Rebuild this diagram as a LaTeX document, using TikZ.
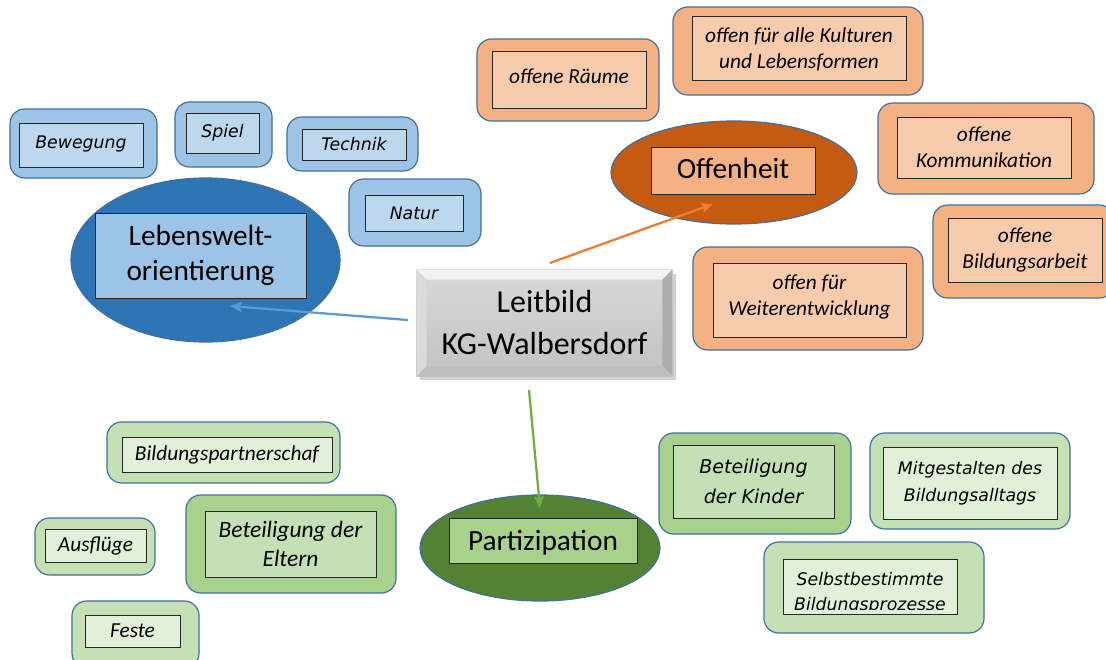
\documentclass[tikz,border=0pt]{standalone}
\usepackage{fontspec}
\setmainfont{Carlito}
\newfontfamily\verd{DejaVu Sans}
\usetikzlibrary{fit,arrows.meta,shapes.geometric,calc}
\definecolor{bOut}{HTML}{9DC3E6}
\definecolor{bIn}{HTML}{BDD7EE}
\definecolor{bEll}{HTML}{2E75B6}
\definecolor{oOut}{HTML}{F4B183}
\definecolor{oIn}{HTML}{F8CBAD}
\definecolor{oEll}{HTML}{C55A11}
\definecolor{gLOut}{HTML}{C5E0B4}
\definecolor{gLIn}{HTML}{E2F0D9}
\definecolor{gSOut}{HTML}{A9D18E}
\definecolor{gEll}{HTML}{548235}
\definecolor{frameB}{HTML}{41719C}
\definecolor{arB}{HTML}{5B9BD5}
\definecolor{arO}{HTML}{ED7D31}
\definecolor{arG}{HTML}{70AD47}
% name, box style, x1, y1, x2, y2, text style, text
\newcommand\ibox[8]{\node[#2, fit={(#3,#4)(#5,#6)}] (#1) {};
  \node[align=center, inner sep=0pt, #7] (#1t) at (#1.center) {#8};}
\tikzset{
  outerbox/.style={draw=frameB, line width=0.9pt, rounded corners=11pt, inner sep=0pt},
  innerbox/.style={draw=black!85, line width=0.75pt, inner sep=0pt},
  ell/.style={ellipse, draw=frameB, line width=0.9pt, inner sep=0pt},
  calt/.style={font=\fontsize{16}{19.5}\selectfont\itshape},
  vert/.style={font=\verd\fontsize{13}{20}\selectfont\itshape},
  mainlbl/.style={font=\fontsize{22}{26}\selectfont},
  arrowline/.style={line width=1.7pt, -{Stealth[length=9pt,width=7.5pt,inset=2pt]}},
}
\begin{document}
\begin{tikzpicture}[x=0.75pt,y=-0.75pt]
\useasboundingbox (0,0) rectangle (1106,660);
\fill[white] (0,0) rectangle (1106,660);

% ---------- blue group ----------
\ibox{bewO}{outerbox,fill=bOut}{10}{109}{157}{178}{}{}
\ibox{bewI}{innerbox,fill=bIn}{19}{123}{143}{167}{vert,yshift=1pt}{Bewegung}
\ibox{spiO}{outerbox,fill=bOut}{175}{102}{272}{167}{}{}
\ibox{spiI}{innerbox,fill=bIn}{186}{113}{259}{153}{vert}{Spiel}
\ibox{tecO}{outerbox,fill=bOut}{287}{117}{418}{171}{}{}
\ibox{tecI}{innerbox,fill=bIn}{302}{129}{406}{160}{vert}{Technik}
\ibox{natO}{outerbox,fill=bOut}{349}{179}{481}{246}{}{}
\ibox{natI}{innerbox,fill=bIn}{365}{195}{463}{231}{vert}{Natur}
\node[ell, fill=bEll, minimum width=201.75pt, minimum height=123pt] (lebE) at (205.5,260) {};
\ibox{lebI}{innerbox,fill=bOut}{95}{213}{306}{298}{mainlbl}{Lebenswelt-\\orientierung}

% ---------- orange group ----------
\ibox{raeO}{outerbox,fill=oOut}{477}{39}{659}{121}{}{}
\ibox{raeI}{innerbox,fill=oIn}{492}{52}{646}{108}{calt,yshift=3pt}{offene Räume}
\ibox{kulO}{outerbox,fill=oOut}{673}{7}{923}{95}{}{}
\ibox{kulI}{innerbox,fill=oIn}{692}{17}{906}{81}{calt}{offen für alle Kulturen\\und Lebensformen}
\node[ell, fill=oEll, minimum width=184.5pt, minimum height=77.25pt] (offE) at (734,172.5) {};
\ibox{offI}{innerbox,fill=oOut}{651}{147}{815}{194}{mainlbl,yshift=1.5pt}{Offenheit}
\ibox{komO}{outerbox,fill=oOut}{878}{103}{1094}{194}{}{}
\ibox{komI}{innerbox,fill=oIn}{897}{117}{1071}{178}{calt}{offene\\Kommunikation}
\ibox{bilO}{outerbox,fill=oOut}{933}{205}{1114}{298}{}{}
\ibox{bilI}{innerbox,fill=oIn}{948}{218}{1102}{282}{calt}{offene\\Bildungsarbeit}
\ibox{weiO}{outerbox,fill=oOut}{693}{247}{923}{350}{}{}
\ibox{weiI}{innerbox,fill=oIn}{713}{263}{906}{337}{calt,yshift=2.25pt}{offen für\\Weiterentwicklung}

% ---------- green group ----------
\ibox{parO}{outerbox,fill=gLOut}{107}{422}{340}{483}{}{}
\ibox{parI}{innerbox,fill=gLIn}{122}{437}{332}{472}{calt}{Bildungspartnerschaf}
\ibox{ausO}{outerbox,fill=gLOut}{35}{518}{155}{575}{}{}
\ibox{ausI}{innerbox,fill=gLIn}{45}{529}{146}{562}{calt}{Ausflüge}
\ibox{eltO}{outerbox,fill=gSOut}{186}{495}{396}{593}{}{}
\ibox{eltI}{innerbox,fill=gLOut}{205}{511}{376}{577}{font=\fontsize{17.6}{22}\selectfont\itshape}{Beteiligung der\\Eltern}
\ibox{fesO}{outerbox,fill=gLOut}{72}{601}{199}{668}{}{}
\ibox{fesI}{innerbox,fill=gLIn}{85}{615}{180}{647}{calt}{Feste}
\node[ell, fill=gEll, minimum width=180pt, minimum height=79.5pt] (parE) at (540,548) {};
\ibox{parT}{innerbox,fill=gSOut}{449}{518}{637}{563}{mainlbl,yshift=-1.5pt}{Partizipation}
\ibox{kinO}{outerbox,fill=gSOut}{659}{433}{851}{534}{}{}
\ibox{kinI}{innerbox,fill=gLOut}{673}{445}{834}{518}{font=\verd\fontsize{14.3}{22}\selectfont\itshape}{Beteiligung\\der Kinder}
\ibox{mitO}{outerbox,fill=gLOut}{870}{433}{1070}{529}{}{}
\ibox{mitI}{innerbox,fill=gLIn}{883}{447}{1057}{519}{vert}{Mitgestalten des\\Bildungsalltags}
\ibox{selO}{outerbox,fill=gLOut}{764}{542}{984}{633}{}{}
\ibox{selI}{innerbox,fill=gLIn}{783}{559}{957}{614}{}{}
\begin{scope}
  \clip (783,559) rectangle (957,609);
  \node[align=center, inner sep=0pt, font=\verd\fontsize{13}{19}\selectfont\itshape] (selT) at (870,593) {Selbstbestimmte\\Bildungsprozesse};
\end{scope}

% ---------- centre box ----------
\fill[black!18] (420,274) rectangle (676,380);
\node[inner sep=0pt, fit={(417,270)(672,376)}] (ctr) {};
\shade[top color=white!85!black, bottom color=white!76!black] (ctr.north west) rectangle (ctr.south east);
\fill[white!95!black] (ctr.north west) -- (ctr.north east) -- ++(-10,10) -- ($(ctr.north west)+(10,10)$) -- cycle;
\fill[white!86!black] (ctr.north west) -- ++(10,10) -- ($(ctr.south west)+(10,-10)$) -- (ctr.south west) -- cycle;
\fill[white!68!black] (ctr.north east) -- (ctr.south east) -- ++(-10,-10) -- ($(ctr.north east)+(-10,10)$) -- cycle;
\fill[white!74!black] (ctr.south west) -- (ctr.south east) -- ++(-10,-10) -- ($(ctr.south west)+(10,-10)$) -- cycle;
\node[font=\fontsize{24}{31.5}\selectfont, align=center] (ctrT) at (ctr.center) {Leitbild\\KG-Walbersdorf};

% ---------- connectors ----------
\coordinate (aB1) at (408,320);
\coordinate (aB2) at (230,306);
\coordinate (aO1) at (550,263);
\coordinate (aO2) at (713,204);
\coordinate (aG1) at (529,390);
\coordinate (aG2) at (540,508);
\draw[arrowline, arB] (aB1) -- (aB2);
\draw[arrowline, arO] (aO1) -- (aO2);
\draw[arrowline, arG] (aG1) -- (aG2);
\end{tikzpicture}
\end{document}
